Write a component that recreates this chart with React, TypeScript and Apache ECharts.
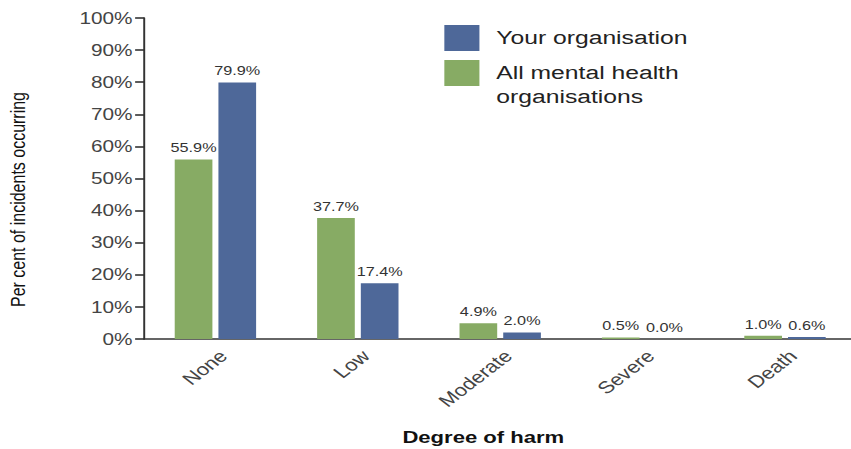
import React, { useEffect, useRef } from "react";
import * as echarts from "echarts";

// Degree of harm categories and incident shares (%)
const categories = ["None", "Low", "Moderate", "Severe", "Death"];
const allOrgsValues = [55.9, 37.7, 4.9, 0.5, 1.0];
const yourOrgValues = [79.9, 17.4, 2.0, 0.0, 0.6];

const ALL_ORGS = "All mental health organisations";
const YOUR_ORG = "Your organisation";

const GREEN = "#87ab64";
const BLUE = "#4e6899";
const FONT = "'Liberation Sans', Arial, sans-serif";

// The chart is laid out on a narrower canvas and widened horizontally.
const STRETCH = 1.3;
const PAGE_W = 851;
const PAGE_H = 449;
const INNER_W = Math.round(PAGE_W / STRETCH);

export default function App() {
  const ref = useRef<HTMLDivElement>(null);

  useEffect(() => {
    if (!ref.current) return;
    const chart = echarts.init(ref.current, null, { renderer: "svg" });

    const labelStyle = {
      show: true,
      position: "top" as const,
      distance: 5,
      fontFamily: FONT,
      fontSize: 12.5,
      color: "#333",
      formatter: (p: any) => `${Number(p.value).toFixed(1)}%`,
    };

    const legendBase = {
      orient: "vertical" as const,
      left: 342,
      padding: 0,
      itemWidth: 27,
      itemHeight: 26,
      icon: "rect",
      selectedMode: false,
    };

    chart.setOption({
      animation: false,
      backgroundColor: "#fff",
      textStyle: { fontFamily: FONT },
      grid: {
        left: 111,
        right: -4,
        top: 18,
        bottom: 110,
        containLabel: false,
        outerBoundsMode: "none",
      },
      legend: [
        {
          ...legendBase,
          data: [{ name: YOUR_ORG }],
          top: 25,
          textStyle: { fontFamily: FONT, fontSize: 19, color: "#222", padding: [0, 0, 0, 8] },
        },
        {
          ...legendBase,
          data: [{ name: ALL_ORGS }],
          top: 37,
          // leading blank line keeps the first text line level with the swatch
          formatter: () => "\nAll mental health\norganisations",
          textStyle: {
            fontFamily: FONT,
            fontSize: 19,
            lineHeight: 24,
            color: "#222",
            padding: [0, 0, 0, 8],
          },
        },
      ],
      xAxis: {
        type: "category",
        data: categories,
        name: "Degree of harm",
        nameLocation: "middle",
        nameGap: 89,
        nameTextStyle: {
          fontFamily: FONT,
          fontSize: 17,
          fontWeight: "bold",
          color: "#111",
          padding: [0, 26, 0, 0],
        },
        axisLine: { show: true, lineStyle: { color: "#333", width: 1.6 } },
        axisTick: { show: false },
        axisLabel: {
          rotate: 45,
          margin: 8,
          verticalAlign: "top",
          fontFamily: FONT,
          fontSize: 17,
          color: "#444",
        },
      },
      yAxis: {
        type: "value",
        min: 0,
        max: 100,
        interval: 10,
        name: "Per cent of incidents occurring",
        nameLocation: "middle",
        nameGap: 89,
        nameRotate: 90,
        nameTextStyle: {
          fontFamily: FONT,
          fontSize: 16,
          color: "#111",
          padding: [0, 42, 0, 0],
        },
        axisLine: { show: true, lineStyle: { color: "#333", width: 1.5 } },
        axisTick: { show: true, inside: false, length: 7, lineStyle: { color: "#333", width: 1.6 } },
        splitLine: { show: false },
        axisLabel: {
          margin: 9,
          fontFamily: FONT,
          fontSize: 16,
          color: "#444",
          formatter: (v: number) => `${v}%`,
        },
      },
      series: [
        {
          name: ALL_ORGS,
          type: "bar",
          data: allOrgsValues,
          barWidth: 29,
          barGap: "16%",
          itemStyle: { color: GREEN },
          label: labelStyle,
        },
        {
          name: YOUR_ORG,
          type: "bar",
          data: yourOrgValues,
          barWidth: 29,
          barGap: "16%",
          itemStyle: { color: BLUE },
          label: labelStyle,
        },
      ],
    });

    return () => chart.dispose();
  }, []);

  return (
    <div
      ref={ref}
      style={{
        position: "absolute",
        left: 0,
        top: 0,
        width: INNER_W,
        height: PAGE_H,
        transform: `scaleX(${PAGE_W / INNER_W})`,
        transformOrigin: "0 0",
      }}
    />
  );
}
